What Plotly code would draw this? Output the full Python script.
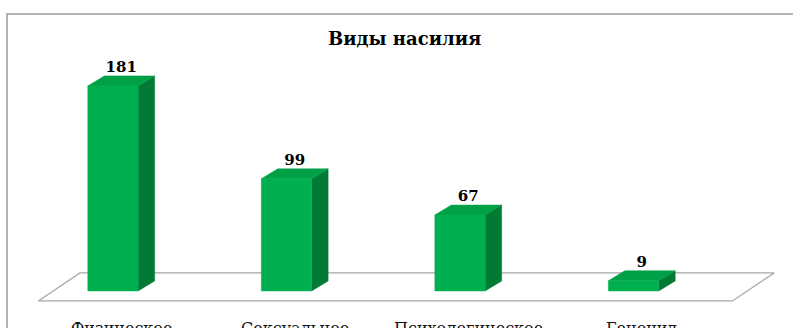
import plotly.graph_objects as go

categories = ["Физическое", "Сексуальное", "Психологическое", "Геноцид"]
values = [181, 99, 67, 9]
title_text = "Виды насилия"

# style constants
FRONT = "#00B050"
SIDE = "#017A34"
TOP = "#00A046"
BAR_W = 0.29
DX = 0.095      # depth offset along x (category units)
DY = 8.8        # depth offset along y (value units)
FLOOR_FRONT = -8.8
FLOOR_BACK = 15.9
FLOOR_LEFT = -0.43
FLOOR_RIGHT = 3.57
FLOOR_SHIFT = 0.24
SERIF = "DejaVu Serif"

fig = go.Figure()

# floor
fx = [FLOOR_LEFT, FLOOR_LEFT + FLOOR_SHIFT, FLOOR_RIGHT + FLOOR_SHIFT, FLOOR_RIGHT, FLOOR_LEFT]
fy = [FLOOR_FRONT, FLOOR_BACK, FLOOR_BACK, FLOOR_FRONT, FLOOR_FRONT]
fig.add_trace(go.Scatter(x=fx, y=fy, mode="lines", fill="toself", fillcolor="white",
                         line=dict(color="#A6A6A6", width=1.2), hoverinfo="skip"))

for i, v in enumerate(values):
    l, r = i - BAR_W / 2, i + BAR_W / 2
    # side face
    fig.add_trace(go.Scatter(x=[r, r + DX, r + DX, r, r], y=[0, DY, v + DY, v, 0],
                             mode="lines", fill="toself", fillcolor=SIDE,
                             line=dict(color=SIDE, width=0.5), hoverinfo="skip"))
    # top face
    fig.add_trace(go.Scatter(x=[l, l + DX, r + DX, r, l], y=[v, v + DY, v + DY, v, v],
                             mode="lines", fill="toself", fillcolor=TOP,
                             line=dict(color=TOP, width=0.5), hoverinfo="skip"))
    # front face
    fig.add_trace(go.Scatter(x=[l, r, r, l, l], y=[0, 0, v, v, 0],
                             mode="lines", fill="toself", fillcolor=FRONT,
                             line=dict(color=FRONT, width=0.5), hoverinfo="skip"))

# value labels
fig.add_trace(go.Scatter(
    x=[i + DX / 2 for i in range(len(values))],
    y=[v + DY for v in values],
    mode="text", text=[str(v) for v in values], textposition="top center",
    textfont=dict(family=SERIF, size=15, color="black", weight="bold"),
    hoverinfo="skip"))

# category labels
for i, c in enumerate(categories):
    fig.add_annotation(x=i + DX / 2, y=-22.8, xref="x", yref="y", text=c,
                       showarrow=False, yanchor="top",
                       font=dict(family=SERIF, size=16, color="#111"))

fig.add_annotation(x=0.51, y=(328 - 38) / 328, xref="paper", yref="paper", text="<b>" + title_text + "</b>",
                   showarrow=False, yanchor="middle",
                   font=dict(family=SERIF, size=18, color="black"))

# outer frame
fig.add_shape(type="rect", xref="paper", yref="paper", x0=7 / 793, x1=1.05, y0=-0.1, y1=(328 - 14) / 328,
              line=dict(color="#9A9A9A", width=1.5), layer="below")

fig.update_layout(
    width=793, height=328, margin=dict(l=0, r=0, t=0, b=0),
    paper_bgcolor="white", plot_bgcolor="white", showlegend=False,
    xaxis=dict(range=[-0.651, 3.919], visible=False, fixedrange=True),
    yaxis=dict(range=[-32.7, 256.8], visible=False, fixedrange=True),
)

fig.write_html("out.html")
